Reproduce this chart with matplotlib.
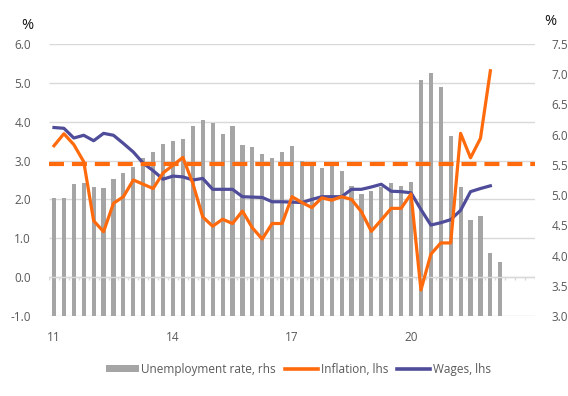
import numpy as np
import matplotlib
matplotlib.use('Agg')
import matplotlib.pyplot as plt
from matplotlib.patches import Patch
from matplotlib.lines import Line2D

# quarterly categories 2011Q1 .. 2023Q1
n_cat = 49
year_ticks = [0, 12, 24, 36]
year_labels = ['11', '14', '17', '20']

# unemployment rate, rhs (2011Q1 .. 2022Q2)
unemployment = [4.96, 4.95, 5.18, 5.20, 5.13, 5.11, 5.27, 5.37, 5.47, 5.61,
                5.71, 5.84, 5.90, 5.92, 6.14, 6.25, 6.20, 6.01, 6.14, 5.83,
                5.80, 5.68, 5.62, 5.71, 5.82, 5.56, 5.49, 5.45, 5.55, 5.40,
                5.15, 5.02, 5.06, 5.14, 5.20, 5.15, 5.22, 6.90, 7.02, 6.78,
                5.98, 5.14, 4.58, 4.65, 4.05, 3.89]

# inflation, lhs (2011Q1 .. 2022Q1)
inflation = [3.38, 3.69, 3.41, 2.97, 1.45, 1.17, 1.90, 2.07, 2.50, 2.39,
             2.28, 2.68, 2.88, 3.08, 2.41, 1.55, 1.31, 1.49, 1.38, 1.70,
             1.27, 0.98, 1.38, 1.38, 2.07, 1.92, 1.79, 2.04, 1.98, 2.07,
             2.00, 1.68, 1.18, 1.47, 1.77, 1.77, 2.14, -0.33, 0.59, 0.88,
             0.88, 3.70, 3.07, 3.57, 5.31]

# wages, lhs (2011Q1 .. 2022Q1)
wages = [3.85, 3.83, 3.58, 3.65, 3.51, 3.70, 3.65, 3.44, 3.22, 2.93,
         2.74, 2.52, 2.60, 2.58, 2.50, 2.54, 2.26, 2.26, 2.26, 2.07,
         2.06, 2.05, 1.94, 1.94, 1.93, 1.92, 2.00, 2.07, 2.07, 2.07,
         2.26, 2.26, 2.32, 2.39, 2.21, 2.20, 2.17, 1.74, 1.34, 1.40,
         1.48, 1.72, 2.20, 2.28, 2.35]

# dashed reference level, lhs
reference_level = 2.9

left_ticks = np.arange(-1, 7)
right_ticks = np.arange(3.0, 7.51, 0.5)

plt.rcParams['font.family'] = ['Open Sans', 'DejaVu Sans']
tick_col = '#595959'
grid_col = '#D9D9D9'
bar_col = '#A5A5A5'
orange = '#FF6A0D'
navy = '#4F4C9A'

fig = plt.figure(figsize=(5.68, 3.96), dpi=100)
ax = fig.add_axes([0.0863, 0.202, 0.8556, 0.687])
ax_r = ax.twinx()
ax.set_zorder(ax_r.get_zorder() + 1)
ax.patch.set_visible(False)

# gridlines follow the left axis but sit behind the bars
ax_r.hlines(left_ticks, 0, 1, transform=ax.get_yaxis_transform(),
            color=grid_col, lw=1.0, zorder=0)

# bars on right axis
ax_r.bar(np.arange(len(unemployment)), unemployment, width=0.42, color=bar_col, zorder=2)
ax_r.set_ylim(3.0, 7.5)
ax_r.set_yticks(right_ticks)
ax_r.set_yticklabels([f'{v:.1f}' for v in right_ticks])

# lines on left axis
ax.plot(np.arange(len(inflation)), inflation, color=orange, lw=2.3, zorder=4,
        solid_joinstyle='round')
ax.plot(np.arange(len(wages)), wages, color=navy, lw=2.3, zorder=3,
        solid_joinstyle='round')
ax.axhline(reference_level, color=orange, lw=3.0, dashes=(3.6, 1.9), zorder=3)

# category axis crossing at zero with tick marks
ax.axhline(0, color=grid_col, lw=1.0, zorder=1)
ax.vlines(np.arange(-0.5, n_cat), -0.08, 0, color=grid_col, lw=1.0, zorder=1)

ax.set_xlim(-0.5, n_cat - 0.5)
ax.set_ylim(-1.0, 6.0)
ax.set_yticks(left_ticks)
ax.set_yticklabels([f'{v:.1f}' for v in left_ticks])
ax.set_xticks(year_ticks)
ax.set_xticklabels(year_labels)

for a in (ax, ax_r):
    for s in a.spines.values():
        s.set_visible(False)
    a.tick_params(length=0, labelsize=8.5, labelcolor=tick_col)
ax.tick_params(axis='y', pad=13)
ax_r.tick_params(axis='y', pad=12)
ax.tick_params(axis='x', pad=11)

fig.text(0.0475, 0.935, '%', fontsize=10.5, ha='center', va='center', color='#111111')
fig.text(0.968, 0.945, '%', fontsize=10.5, ha='center', va='center', color='#111111')

handles = [Patch(facecolor=bar_col, edgecolor='none'),
           Line2D([], [], color=orange, lw=2.6),
           Line2D([], [], color=navy, lw=2.6)]
labels = ['Unemployment rate, rhs', 'Inflation, lhs', 'Wages, lhs']
leg = fig.legend(handles, labels, loc='center', bbox_to_anchor=(0.525, 0.068), ncol=3,
                 frameon=False, fontsize=8.5, handlelength=2.8, handleheight=0.5,
                 handletextpad=0.2, columnspacing=0.8, labelcolor=tick_col)

fig.savefig('out.png', dpi=100)
